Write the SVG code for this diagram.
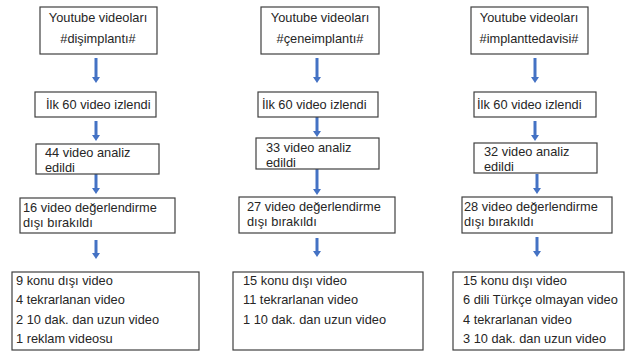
<svg xmlns="http://www.w3.org/2000/svg" width="638" height="356" viewBox="0 0 638 356">
<defs>
<style>
.box{fill:#fff;stroke:#404040;stroke-width:1.2}
.t{font-family:"Liberation Sans",Arial,sans-serif;font-size:12.8px;fill:#262626}
.c{text-anchor:middle}
.arr{stroke:#4472C4;stroke-width:3;fill:none}
.head{fill:#4472C4}
</style>
</defs>
<rect width="638" height="356" fill="#fff"/>
<g id="connectors">
<!-- column 1 -->
<line class="arr" x1="96" y1="58" x2="96" y2="78"/><polygon class="head" points="92,77 100,77 96,83"/>
<line class="arr" x1="96" y1="121" x2="96" y2="136"/><polygon class="head" points="92,135 100,135 96,141"/>
<line class="arr" x1="96" y1="174" x2="96" y2="189"/><polygon class="head" points="92,188 100,188 96,194"/>
<line class="arr" x1="96" y1="240" x2="96" y2="254"/><polygon class="head" points="92,253 100,253 96,259"/>
<!-- column 2 -->
<line class="arr" x1="317" y1="58" x2="317" y2="78"/><polygon class="head" points="313,77 321,77 317,83"/>
<line class="arr" x1="317" y1="117" x2="317" y2="132"/><polygon class="head" points="313,131 321,131 317,137"/>
<line class="arr" x1="317" y1="169" x2="317" y2="190"/><polygon class="head" points="313,189 321,189 317,195"/>
<line class="arr" x1="317" y1="238" x2="317" y2="252"/><polygon class="head" points="313,251 321,251 317,257"/>
<!-- column 3 -->
<line class="arr" x1="535" y1="58" x2="535" y2="78"/><polygon class="head" points="531,77 539,77 535,83"/>
<line class="arr" x1="535" y1="121" x2="535" y2="136"/><polygon class="head" points="531,135 539,135 535,141"/>
<line class="arr" x1="537" y1="174" x2="537" y2="189"/><polygon class="head" points="533,188 541,188 537,194"/>
<line class="arr" x1="537" y1="237" x2="537" y2="252"/><polygon class="head" points="533,251 541,251 537,257"/>
</g>
<g id="c1-start"><rect class="box" x="40" y="7" width="117" height="47"/>
<text class="t c" x="98" y="22">Youtube videoları</text><text class="t c" x="98" y="43">#dişimplantı#</text></g>
<g id="c1-watched"><rect class="box" x="35" y="92" width="121" height="25"/><text class="t" x="46" y="109">İlk 60 video izlendi</text></g>
<g id="c1-analyzed"><rect class="box" x="36" y="144" width="123" height="30"/><text class="t" x="45" y="157">44 video analiz</text><text class="t" x="45" y="172">edildi</text></g>
<g id="c1-excluded"><rect class="box" x="20" y="198" width="155" height="35"/><text class="t" x="23" y="212">16 video değerlendirme</text><text class="t" x="23" y="227">dışı bırakıldı</text></g>
<g id="c1-reasons"><rect class="box" x="12" y="272" width="187" height="78"/>
<text class="t" x="16" y="285">9 konu dışı video</text><text class="t" x="16" y="304">4 tekrarlanan video</text><text class="t" x="16" y="324">2 10 dak. dan uzun video</text><text class="t" x="16" y="343">1 reklam videosu</text></g>

<g id="c2-start"><rect class="box" x="261" y="7" width="118" height="47"/>
<text class="t c" x="320" y="22">Youtube videoları</text><text class="t c" x="320" y="43">#çeneimplantı#</text></g>
<g id="c2-watched"><rect class="box" x="258" y="92" width="120" height="25"/><text class="t" x="262" y="109">İlk 60 video izlendi</text></g>
<g id="c2-analyzed"><rect class="box" x="256" y="138" width="123" height="31"/><text class="t" x="266" y="152">33 video analiz</text><text class="t" x="266" y="167">edildi</text></g>
<g id="c2-excluded"><rect class="box" x="239" y="197" width="156" height="36"/><text class="t" x="247" y="211">27 video değerlendirme</text><text class="t" x="247" y="226">dışı bırakıldı</text></g>
<g id="c2-reasons"><rect class="box" x="233" y="272" width="190" height="78"/>
<text class="t" x="243" y="285">15 konu dışı video</text><text class="t" x="243" y="304">11 tekrarlanan video</text><text class="t" x="243" y="324">1 10 dak. dan uzun video</text></g>

<g id="c3-start"><rect class="box" x="471" y="7" width="117" height="47"/>
<text class="t c" x="529" y="22">Youtube videoları</text><text class="t c" x="529" y="43">#implanttedavisi#</text></g>
<g id="c3-watched"><rect class="box" x="474" y="92" width="122" height="25"/><text class="t" x="477" y="109">İlk 60 video izlendi</text></g>
<g id="c3-analyzed"><rect class="box" x="474" y="143" width="123" height="30"/><text class="t" x="484" y="156">32 video analiz</text><text class="t" x="484" y="171">edildi</text></g>
<g id="c3-excluded"><rect class="box" x="462" y="197" width="150" height="36"/><text class="t" x="464" y="211">28 video değerlendirme</text><text class="t" x="464" y="226">dışı bırakıldı</text></g>
<g id="c3-reasons"><rect class="box" x="453" y="272" width="171" height="78"/>
<text class="t" x="463" y="285">15 konu dışı video</text><text class="t" x="463" y="304">6 dili Türkçe olmayan video</text><text class="t" x="463" y="324">4 tekrarlanan video</text><text class="t" x="463" y="343">3 10 dak. dan uzun video</text></g>
</svg>
